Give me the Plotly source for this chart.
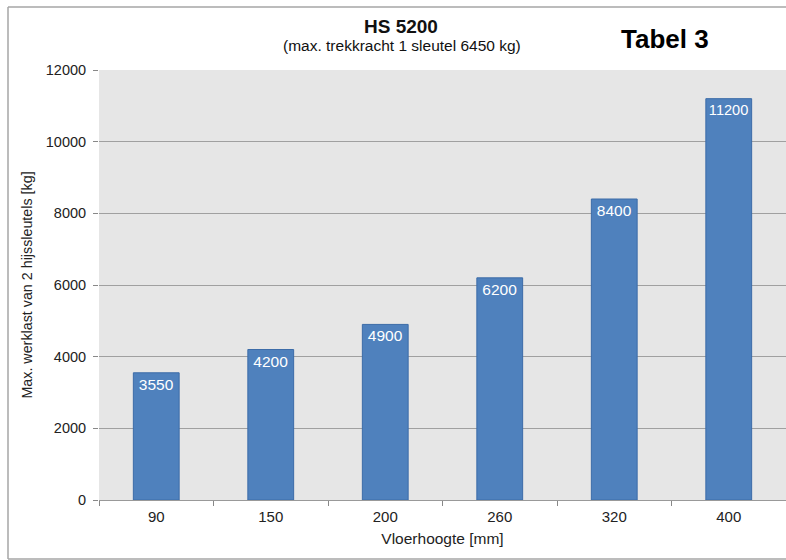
import plotly.graph_objects as go

categories = ["90", "150", "200", "260", "320", "400"]
values = [3550, 4200, 4900, 6200, 8400, 11200]
y_ticks = [0, 2000, 4000, 6000, 8000, 10000, 12000]

W, H = 786, 560
L, R, T, B = 99, 0, 70, 60
pw, ph = W - L - R, H - T - B

def px(x):  # page x -> paper x
    return (x - L) / pw

def py(y):  # page y -> paper y
    return (H - B - y) / ph

fig = go.Figure(go.Bar(
    x=categories, y=values, width=0.4,
    marker=dict(color="#4f81bd", line=dict(color="#3c6ca8", width=1)),
    text=[str(v) for v in values], textposition="inside", insidetextanchor="end",
    textangle=0,
    textfont=dict(color="white", size=15.5, family="Liberation Sans, Arial"),
    cliponaxis=False,
))

border = dict(color="#a6a6a6", width=1.5)

fig.update_layout(
    width=W, height=H,
    margin=dict(l=L, r=R, t=T, b=B),
    paper_bgcolor="white", plot_bgcolor="#e6e6e6",
    font=dict(family="Liberation Sans, Arial", color="#222222", size=14),
    showlegend=False, bargap=0.6,
    xaxis=dict(
        type="category", showgrid=False, ticks="outside", tickson="boundaries",
        ticklen=5, tickcolor="#888888", showline=True, linecolor="#999999", linewidth=1,
        tickfont=dict(size=15), ticklabelstandoff=3,
        title=dict(text="Vloerhoogte [mm]", font=dict(size=15.5), standoff=9),
    ),
    yaxis=dict(
        range=[0, 12000], tickvals=y_ticks, tickformat="d", ticks="outside", ticklen=5,
        tickcolor="#888888", showgrid=True, gridcolor="#a0a0a0", gridwidth=1,
        zeroline=False, showline=False, tickfont=dict(size=14.5), ticklabelstandoff=4,
        title=dict(text="Max. werklast van 2 hijssleutels [kg]", font=dict(size=14.3), standoff=9),
    ),
    annotations=[
        dict(text="<b>HS 5200</b>", xref="paper", yref="paper", x=px(401), y=py(27),
             showarrow=False, font=dict(size=19, color="#111111"), xanchor="center", yanchor="middle"),
        dict(text="(max. trekkracht 1 sleutel 6450 kg)", xref="paper", yref="paper", x=px(402), y=py(46),
             showarrow=False, font=dict(size=15.5, color="#111111"), xanchor="center", yanchor="middle"),
        dict(text="<b>Tabel 3</b>", xref="paper", yref="paper", x=px(665), y=py(39),
             showarrow=False, font=dict(size=26, color="#000000"), xanchor="center", yanchor="middle"),
    ],
    shapes=[
        dict(type="line", xref="paper", yref="paper", x0=px(8), x1=px(8), y0=py(559), y1=py(7),
             line=border, layer="below"),
        dict(type="line", xref="paper", yref="paper", x0=px(8), x1=px(W + 5), y0=py(7), y1=py(7),
             line=border, layer="below"),
        dict(type="line", xref="paper", yref="paper", x0=px(8), x1=px(W + 5), y0=py(559), y1=py(559),
             line=border, layer="below"),
    ],
)

fig.write_html(
    "out.html",
    config={"displayModeBar": False},
    post_script=(
        "document.documentElement.style.overflow='hidden';"
        "document.body.style.overflow='hidden';"
        "document.body.style.margin='0px';document.body.style.padding='0px';"
    ),
)
